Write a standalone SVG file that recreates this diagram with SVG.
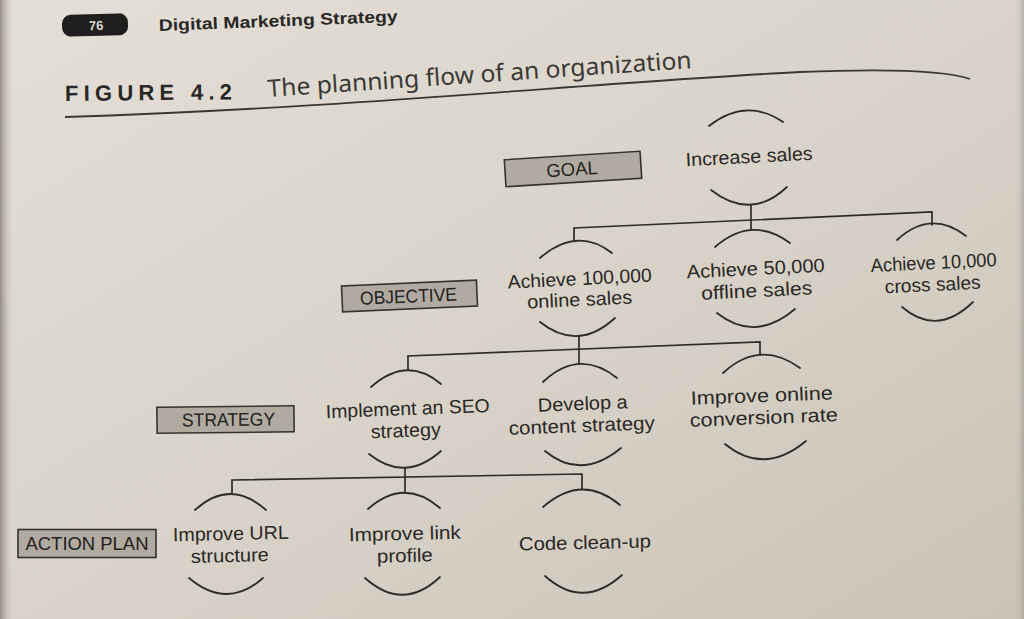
<svg xmlns="http://www.w3.org/2000/svg" width="1024" height="619" viewBox="0 0 1024 619">
  <defs>
    <linearGradient id="page" x1="0" y1="0" x2="1" y2="1">
      <stop offset="0" stop-color="#e4dfd7"/>
      <stop offset="0.5" stop-color="#d9d3c9"/>
      <stop offset="1" stop-color="#cac3b7"/>
    </linearGradient>
    <linearGradient id="gutter" x1="0" y1="0" x2="1" y2="0">
      <stop offset="0" stop-color="#968f85"/>
      <stop offset="1" stop-color="#d6d0c6" stop-opacity="0"/>
    </linearGradient>
    <linearGradient id="edge" x1="1" y1="0" x2="0" y2="0">
      <stop offset="0" stop-color="#7a756d"/>
      <stop offset="1" stop-color="#d6d0c6" stop-opacity="0"/>
    </linearGradient>
    <style>
      .t { font-family: "Liberation Sans", Arial, sans-serif; font-size: 19px; fill: #2a2825; text-anchor: middle; }
      .arc, .line { fill: none; stroke: #2e2c29; stroke-width: 1.8; stroke-linecap: round; }
      .line { stroke-width: 1.7; stroke-linejoin: miter; }
      .box { fill: #b0aaa1; stroke: #35332f; stroke-width: 1.6; }
      .lbl { font-family: "Liberation Sans", Arial, sans-serif; font-size: 18.5px; fill: #23211e; text-anchor: middle; }
    </style>
  </defs>

  <!-- page background -->
  <rect x="0" y="0" width="1024" height="619" fill="url(#page)"/>
  <rect x="0" y="0" width="14" height="619" fill="url(#gutter)"/>
  <rect x="1014" y="0" width="10" height="619" fill="url(#edge)" opacity="0.35"/>

  <!-- running header -->
  <g id="header">
    <rect x="62" y="14" width="66" height="22" rx="9" fill="#1f1e1c" transform="rotate(-1.5 95 25)"/>
    <text x="96" y="30" font-family="Liberation Sans, Arial, sans-serif" font-size="13" font-weight="bold" fill="#d8d4cc" text-anchor="middle" transform="rotate(-1.5 95 25)">76</text>
    <text x="159" y="31" font-family="Liberation Sans, Arial, sans-serif" font-size="16.5" font-weight="bold" fill="#2a2826" textLength="239" lengthAdjust="spacingAndGlyphs" transform="rotate(-2.2 159 31)">Digital Marketing Strategy</text>
  </g>

  <!-- figure title -->
  <g id="title">
    <text x="65" y="101" font-family="Liberation Sans, Arial, sans-serif" font-size="22" font-weight="bold" fill="#2a2826" textLength="167" lengthAdjust="spacing" transform="rotate(-0.6 65 101)">FIGURE 4.2</text>
    <text x="268" y="97" font-family="Noto Sans, Liberation Sans, Arial, sans-serif" font-size="24" fill="#3b3936" textLength="425" lengthAdjust="spacingAndGlyphs" transform="rotate(-3.9 268 97)">The planning flow of an organization</text>
    <path d="M65,117 C350,108 600,82 800,72 C900,68 950,72 970,79" fill="none" stroke="#3a3835" stroke-width="1.8"/>
  </g>

  <!-- level labels -->
  <g id="label-goal" transform="translate(573,169) rotate(-3.6)">
    <rect class="box" x="-68" y="-13.5" width="136" height="27"/>
    <text class="lbl" x="-1" y="6.5">GOAL</text>
  </g>
  <g id="label-objective" transform="translate(409.5,296) rotate(-2.5)">
    <rect class="box" x="-67.5" y="-13" width="135" height="26"/>
    <text class="lbl" x="-1" y="6.5" textLength="97" lengthAdjust="spacingAndGlyphs">OBJECTIVE</text>
  </g>
  <g id="label-strategy" transform="translate(225.5,419.5) rotate(-0.6)">
    <rect class="box" x="-68.5" y="-13" width="137" height="26"/>
    <text class="lbl" x="3" y="6.5" textLength="93" lengthAdjust="spacingAndGlyphs">STRATEGY</text>
  </g>
  <g id="label-action" transform="translate(87,543.5)">
    <rect class="box" x="-69" y="-14" width="138" height="28"/>
    <text class="lbl" x="0" y="6.5" textLength="123" lengthAdjust="spacingAndGlyphs">ACTION PLAN</text>
  </g>

  <!-- connectors -->
  <g id="connectors">
    <path class="line" d="M751,205 V230"/>
    <path class="line" d="M574,240 V228 L932,212 V225"/>
    <path class="line" d="M579,336 V364"/>
    <path class="line" d="M408,370 V356 L760,342 V355"/>
    <path class="line" d="M405,468 V493"/>
    <path class="line" d="M232,493 V480 L582,474 V489"/>
  </g>

  <!-- goal -->
  <g id="node-increase-sales">
    <path class="arc" d="M709,126 Q746,97 783,122"/>
    <text class="t" x="749.5" y="163" textLength="127" lengthAdjust="spacingAndGlyphs" transform="rotate(-3 749.5 163)">Increase sales</text>
    <path class="arc" d="M711,190 Q751,221 787,187"/>
  </g>

  <!-- objectives -->
  <g id="node-online-sales">
    <path class="arc" d="M540,258 Q577,226 612,253"/>
    <text class="t" x="580" y="285" textLength="144" lengthAdjust="spacingAndGlyphs" transform="rotate(-2.8 580 285)">Achieve 100,000</text>
    <text class="t" x="580" y="306" textLength="105" lengthAdjust="spacingAndGlyphs" transform="rotate(-2.8 580 306)">online sales</text>
    <path class="arc" d="M540,322 Q578,352 615,318"/>
  </g>
  <g id="node-offline-sales">
    <path class="arc" d="M715,247 Q752,215 790,243"/>
    <text class="t" x="756" y="275" textLength="138" lengthAdjust="spacingAndGlyphs" transform="rotate(-2.8 756 275)">Achieve 50,000</text>
    <text class="t" x="757" y="297" textLength="111" lengthAdjust="spacingAndGlyphs" transform="rotate(-2.8 757 297)">offline sales</text>
    <path class="arc" d="M717,313 Q755,343 795,309"/>
  </g>
  <g id="node-cross-sales">
    <path class="arc" d="M897,240 Q931,209 966,236"/>
    <text class="t" x="934" y="269" textLength="126" lengthAdjust="spacingAndGlyphs" transform="rotate(-2.8 934 269)">Achieve 10,000</text>
    <text class="t" x="933" y="291" textLength="96" lengthAdjust="spacingAndGlyphs" transform="rotate(-2.8 933 291)">cross sales</text>
    <path class="arc" d="M902,307 Q937,337 973,302"/>
  </g>

  <!-- strategies -->
  <g id="node-seo">
    <path class="arc" d="M371,387 Q407,355 441,384"/>
    <text class="t" x="408" y="415" textLength="164" lengthAdjust="spacingAndGlyphs" transform="rotate(-2.2 408 415)">Implement an SEO</text>
    <text class="t" x="406" y="437" textLength="70" lengthAdjust="spacingAndGlyphs" transform="rotate(-2.2 406 437)">strategy</text>
    <path class="arc" d="M369,454 Q405,483 441,451"/>
  </g>
  <g id="node-content">
    <path class="arc" d="M543,382 Q579,348 617,378"/>
    <text class="t" x="583" y="410" textLength="90" lengthAdjust="spacingAndGlyphs" transform="rotate(-2.2 583 410)">Develop a</text>
    <text class="t" x="582" y="432" textLength="146" lengthAdjust="spacingAndGlyphs" transform="rotate(-2.2 582 432)">content strategy</text>
    <path class="arc" d="M545,451 Q581,481 621,448"/>
  </g>
  <g id="node-conversion">
    <path class="arc" d="M723,373 Q760,339 800,368"/>
    <text class="t" x="762" y="402" textLength="142" lengthAdjust="spacingAndGlyphs" transform="rotate(-2.2 762 402)">Improve online</text>
    <text class="t" x="764" y="424" textLength="148" lengthAdjust="spacingAndGlyphs" transform="rotate(-2.2 764 424)">conversion rate</text>
    <path class="arc" d="M725,444 Q764,476 806,441"/>
  </g>

  <!-- action plans -->
  <g id="node-url">
    <path class="arc" d="M195,510 Q230,478 266,510"/>
    <text class="t" x="231" y="540" textLength="116" lengthAdjust="spacingAndGlyphs" transform="rotate(-1.3 231 540)">Improve URL</text>
    <text class="t" x="230" y="562" textLength="78" lengthAdjust="spacingAndGlyphs" transform="rotate(-1.3 230 562)">structure</text>
    <path class="arc" d="M189,578 Q227,610 263,578"/>
  </g>
  <g id="node-link">
    <path class="arc" d="M368,509 Q404,477 440,508"/>
    <text class="t" x="405" y="540" textLength="112" lengthAdjust="spacingAndGlyphs" transform="rotate(-1.3 405 540)">Improve link</text>
    <text class="t" x="405" y="562" textLength="56" lengthAdjust="spacingAndGlyphs" transform="rotate(-1.3 405 562)">profile</text>
    <path class="arc" d="M365,578 Q403,612 440,577"/>
  </g>
  <g id="node-cleanup">
    <path class="arc" d="M543,507 Q582,473 620,505"/>
    <text class="t" x="585" y="549" textLength="132" lengthAdjust="spacingAndGlyphs" transform="rotate(-1.3 585 549)">Code clean-up</text>
    <path class="arc" d="M545,576 Q583,610 622,575"/>
  </g>
</svg>
